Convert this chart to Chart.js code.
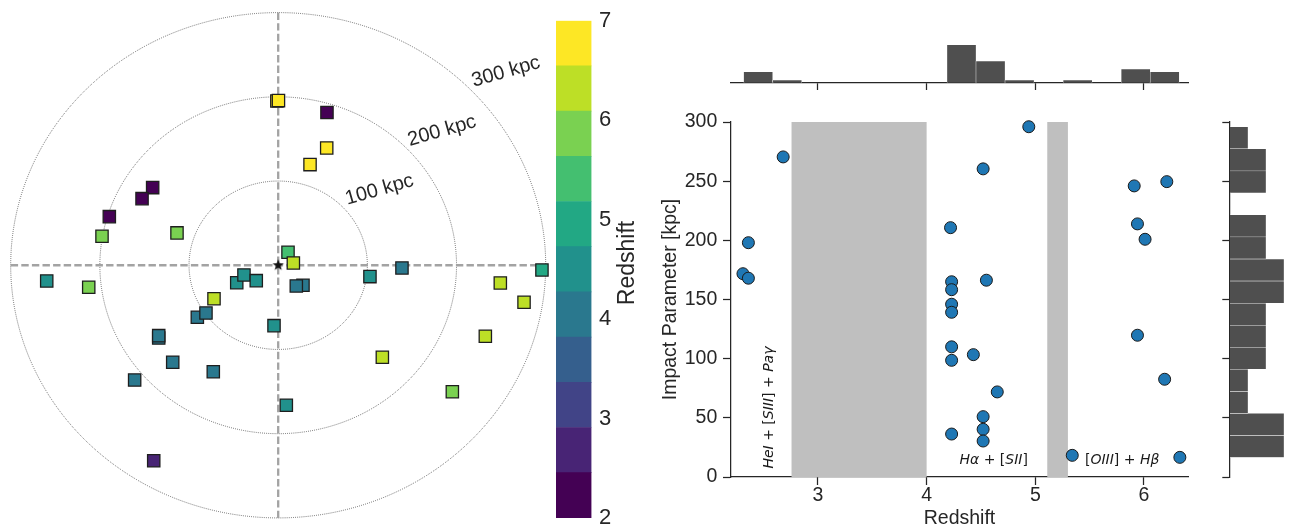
<!DOCTYPE html>
<html>
<head>
<meta charset="utf-8">
<script src="https://cdn.jsdelivr.net/npm/chart.js@4/dist/chart.umd.min.js"></script>
<style>
  html, body { margin: 0; padding: 0; background: #ffffff; width: 1291px; height: 529px; overflow: hidden; }
  .layer { position: absolute; left: 0; top: 0; width: 1291px; height: 540px; }
</style>
</head>
<body>
<div class="layer"><canvas id="sky"></canvas></div>
<div class="layer"><canvas id="cbar"></canvas></div>
<div class="layer"><canvas id="scatter"></canvas></div>
<div class="layer"><canvas id="histTop"></canvas></div>
<div class="layer"><canvas id="histRight"></canvas></div>
<script>
// ---- Sky-plane offsets of the galaxies from the sight line (kpc) and their redshifts ----
const skyDx = [-1.5, 0.3, 54.7, 54.4, 35.7, -140.8, -152.7, -189.4, -197.6, -113.5,
               11.0, 17.0, 138.8, 102.9, 27.8, 20.3, 295.8, 249.1, 275.7, 232.3,
               116.8, 195.3, 9.1, -4.7, -259.6, -212.5, -46.5, -38.4, -24.6, -72.0,
               -90.7, -81.0, -134.0, -134.0, -118.3, -72.8, -161.0, -139.6];
const skyDy = [195.0, 195.5, 181.3, 139.3, 119.5, 92.2, 79.1, 57.7, 34.4, 38.4,
               15.4, 2.7, -3.2, -13.5, -23.8, -24.6, -5.6, -21.0, -44.0, -84.3,
               -109.3, -150.2, -166.3, -71.7, -18.7, -26.1, -20.7, -11.5, -18.3, -39.7,
               -61.8, -56.7, -86.4, -83.6, -115.2, -126.4, -136.3, -232.1];
const skyZ  = [6.80, 6.80, 2.36, 6.80, 6.80, 2.36, 2.31, 2.36, 6.01, 5.94,
               5.34, 6.33, 4.22, 4.43, 4.22, 4.22, 4.94, 6.21, 6.30, 6.30,
               6.30, 5.91, 4.55, 4.65, 4.52, 5.94, 4.52, 4.52, 4.52, 6.19,
               4.22, 4.22, 4.22, 4.22, 4.22, 4.22, 4.22, 2.68];
const qsoPos = [0, 0];
const ringRadii = [100, 200, 300];
const ringNames = ['100 kpc', '200 kpc', '300 kpc'];

// ---- Discrete redshift colour scale ----
const zBounds = [2.0, 2.4545, 2.9091, 3.3636, 3.8182, 4.2727, 4.7273, 5.1818, 5.6364, 6.0909, 6.5455, 7.0];
const zColours = ['#440154', '#482475', '#414487', '#355f8d', '#2a788e', '#21918c',
                  '#22a884', '#44bf70', '#7ad151', '#bddf26', '#fde725'];
const cbarTicks = [2, 3, 4, 5, 6, 7];

// ---- Redshift vs impact parameter ----
const galZ  = [2.31, 2.36, 2.36, 2.68, 4.22, 4.23, 4.23, 4.23, 4.23, 4.23, 4.23, 4.23,
               4.43, 4.52, 4.55, 4.65, 4.52, 4.52, 4.52, 4.94, 5.34, 5.91, 6.21, 5.94,
               6.01, 5.94, 6.19, 6.33];
const galIP = [171.8, 198.0, 168.0, 270.5, 210.7, 165.0, 158.3, 146.0, 139.2, 110.0, 98.6, 36.3,
               103.4, 260.4, 166.3, 71.9, 51.0, 40.3, 30.4, 296.0, 18.3, 246.0, 249.6, 213.9,
               200.9, 119.8, 82.6, 16.6];
const blindZ = [[2.757, 4.0], [5.11, 5.30]];
const zTicks = [3, 4, 5, 6];
const ipTicks = [0, 50, 100, 150, 200, 250, 300];

// ---- Marginal histograms ----
const zHistCenters = [2.450, 2.717, 2.984, 3.251, 3.519, 3.786, 4.053, 4.321, 4.588, 4.855, 5.122, 5.390, 5.657, 5.924, 6.191];
const zHistCounts  = [4, 1, 0, 0, 0, 0, 0, 14, 8, 1, 0, 1, 0, 5, 4];
const ipHistCenters = [25.913, 44.540, 63.167, 81.793, 100.420, 119.047, 137.673, 156.300,
                       174.927, 193.553, 212.180, 230.807, 249.433, 268.060, 286.687];
const ipHistCounts  = [3, 3, 1, 1, 2, 2, 2, 3, 3, 2, 2, 0, 2, 2, 1];

// ---------------------------------------------------------------
const INK = '#262626';
const PAGE_H = 540;
Chart.defaults.font.family = "'Liberation Sans', Arial, sans-serif";
Chart.defaults.color = INK;

function zColour(z) {
  for (let i = 0; i < zColours.length; i++) {
    if (z >= zBounds[i] && z < zBounds[i + 1]) return zColours[i];
  }
  return zColours[zColours.length - 1];
}

// filled five-point star used for the quasar position
function starImage(r) {
  const c = document.createElement('canvas');
  const s = Math.ceil(2 * r + 2);
  c.width = s; c.height = s;
  const g = c.getContext('2d');
  g.translate(s / 2, s / 2);
  g.beginPath();
  for (let i = 0; i < 10; i++) {
    const rad = i % 2 === 0 ? r : r * 0.42;
    const a = -Math.PI / 2 + i * Math.PI / 5;
    g.lineTo(rad * Math.cos(a), rad * Math.sin(a));
  }
  g.closePath();
  g.fillStyle = '#111111';
  g.fill();
  return c;
}

function drawRuns(ctx, runs, x, y, size, align) {
  const fontOf = r => (r.it ? 'italic ' : '') + size + "px 'DejaVu Sans'";
  let total = 0;
  runs.forEach(r => { ctx.font = fontOf(r); total += ctx.measureText(r.t).width; });
  let cx = align === 'center' ? x - total / 2 : x;
  ctx.textAlign = 'left';
  ctx.textBaseline = 'middle';
  runs.forEach(r => { ctx.font = fontOf(r); ctx.fillText(r.t, cx, y); cx += ctx.measureText(r.t).width; });
}

const common = {
  responsive: true,
  maintainAspectRatio: false,
  animation: false,
  events: [],
};

// ---------------- Sky map ----------------
const skyFrame = {
  id: 'skyFrame',
  beforeDatasetsDraw(chart, args, opts) {
    const { ctx, chartArea: a, scales: { x, y } } = chart;
    const cx = x.getPixelForValue(0), cy = y.getPixelForValue(0);
    ctx.save();
    ctx.strokeStyle = 'rgba(30,30,30,0.95)';
    ctx.lineWidth = 0.8;
    ctx.setLineDash([0.8, 1.3]);
    ringRadii.forEach(r => {
      const rx = x.getPixelForValue(r) - cx;
      const ry = cy - y.getPixelForValue(r);
      ctx.beginPath();
      ctx.ellipse(cx, cy, rx, ry, 0, 0, 2 * Math.PI);
      ctx.stroke();
    });
    ctx.strokeStyle = '#a3a3a3';
    ctx.lineWidth = 2.3;
    ctx.setLineDash([7.4, 3.2]);
    ctx.beginPath();
    ctx.moveTo(a.left, cy); ctx.lineTo(a.right, cy);
    ctx.moveTo(cx, a.top); ctx.lineTo(cx, a.bottom);
    ctx.stroke();
    ctx.setLineDash([]);
    ctx.fillStyle = INK;
    ctx.font = "20px 'Liberation Sans', Arial, sans-serif";
    ctx.textAlign = 'center';
    ctx.textBaseline = 'middle';
    opts.labelAt.forEach((p, i) => {
      ctx.save();
      ctx.translate(x.getPixelForValue(p[0]), y.getPixelForValue(p[1]));
      ctx.rotate(-opts.angle * Math.PI / 180);
      ctx.fillText(ringNames[i], 0, 0);
      ctx.restore();
    });
    ctx.restore();
  }
};

new Chart(document.getElementById('sky'), {
  type: 'scatter',
  data: {
    datasets: [
      {
        data: skyDx.map((dx, i) => ({ x: dx, y: skyDy[i] })),
        pointStyle: 'rect',
        pointRadius: 8.7,
        pointHoverRadius: 8.7,
        backgroundColor: skyZ.map(zColour),
        borderColor: '#1e1e1e',
        borderWidth: 1.3,
        clip: false,
        order: 2
      },
      {
        data: [{ x: qsoPos[0], y: qsoPos[1] }],
        pointStyle: starImage(6),
        pointRadius: 6,
        clip: false,
        order: 1
      }
    ]
  },
  options: {
    ...common,
    layout: { padding: { left: 10.7, right: 1291 - 545.7, top: 12.6, bottom: PAGE_H - 517.9 } },
    plugins: {
      legend: { display: false }, tooltip: { enabled: false },
      skyFrame: { labelAt: [[113.6, 89.5], [183.7, 159.5], [255.5, 229.6]], angle: 16 }
    },
    scales: {
      x: { type: 'linear', min: -300, max: 300, display: false },
      y: { type: 'linear', min: -300, max: 300, display: false }
    }
  },
  plugins: [skyFrame]
});

// ---------------- Colour bar ----------------
const cbarTitle = {
  id: 'cbarTitle',
  afterDraw(chart) {
    const { ctx } = chart;
    ctx.save();
    ctx.translate(627.6, 263);
    ctx.rotate(-Math.PI / 2);
    ctx.fillStyle = INK;
    ctx.font = "23px 'Liberation Sans', Arial, sans-serif";
    ctx.textAlign = 'center';
    ctx.textBaseline = 'middle';
    ctx.fillText('Redshift', 0, 0);
    ctx.restore();
  }
};

new Chart(document.getElementById('cbar'), {
  type: 'bar',
  data: {
    labels: [''],
    datasets: zColours.map((c, i) => ({
      data: [[zBounds[i], zBounds[i + 1]]],
      backgroundColor: c,
      borderWidth: 0,
      grouped: false,
      barPercentage: 1,
      categoryPercentage: 1
    }))
  },
  options: {
    ...common,
    layout: { padding: { left: 556, right: 1291 - 591.5 - 40, top: 12.6, bottom: PAGE_H - 517.9 } },
    plugins: { legend: { display: false }, tooltip: { enabled: false } },
    scales: {
      x: { display: false },
      y: {
        type: 'linear', min: 2, max: 7, position: 'right',
        afterBuildTicks: s => { s.ticks = cbarTicks.map(v => ({ value: v })); },
        afterFit: s => { s.width = 40; },
        grid: { display: false, drawTicks: false },
        border: { display: false },
        ticks: { padding: 7.5, font: { size: 22 }, color: INK }
      }
    }
  },
  plugins: [cbarTitle]
});

// ---------------- Redshift vs impact parameter ----------------
const axisBox = { left: 731, right: 1188, top: 122, bottom: 477 };
const zRange = { min: 2.2, max: 6.405 };

const blindBands = {
  id: 'blindBands',
  beforeDatasetsDraw(chart) {
    const { ctx, chartArea: a, scales: { x } } = chart;
    ctx.save();
    ctx.fillStyle = '#bfbfbf';
    blindZ.forEach(b => {
      const x0 = x.getPixelForValue(b[0]), x1 = x.getPixelForValue(b[1]);
      ctx.fillRect(x0, a.top, x1 - x0, a.bottom - a.top);
    });
    ctx.restore();
  },
  afterDatasetsDraw(chart, args, opts) {
    const { ctx, scales: { x, y } } = chart;
    ctx.save();
    ctx.fillStyle = '#1a1a1a';
    opts.notes.forEach(n => {
      const px = x.getPixelForValue(n.z), py = y.getPixelForValue(n.ip);
      if (n.vertical) {
        ctx.save();
        ctx.translate(px, py);
        ctx.rotate(-Math.PI / 2);
        drawRuns(ctx, n.runs, 0, 0, 14, 'center');
        ctx.restore();
      } else {
        drawRuns(ctx, n.runs, px, py, 14, 'left');
      }
    });
    ctx.restore();
  }
};

const tickStyle = { display: true, offset: false, drawOnChartArea: false, drawTicks: true, tickLength: 8, tickWidth: 1.25, tickColor: INK };
const borderStyle = { display: true, color: INK, width: 1.25 };

new Chart(document.getElementById('scatter'), {
  type: 'scatter',
  data: {
    datasets: [{
      data: galZ.map((z, i) => ({ x: z, y: galIP[i] })),
      pointRadius: 6,
      pointHoverRadius: 6,
      backgroundColor: '#1f77b4',
      borderColor: '#1a1a1a',
      borderWidth: 1,
      clip: false
    }]
  },
  options: {
    ...common,
    layout: { padding: { left: 659, right: 1291 - axisBox.right, top: axisBox.top, bottom: PAGE_H - 530.7 } },
    plugins: {
      legend: { display: false }, tooltip: { enabled: false },
      blindBands: {
        notes: [
          { z: 2.552, ip: 58.7, vertical: true,
            runs: [{ t: 'HeI', it: true }, { t: ' + [', it: false }, { t: 'SIII', it: true }, { t: '] + ', it: false }, { t: 'Paγ', it: true }] },
          { z: 4.302, ip: 13.8,
            runs: [{ t: 'Hα', it: true }, { t: ' + [', it: false }, { t: 'SII', it: true }, { t: ']', it: false }] },
          { z: 5.457, ip: 13.8,
            runs: [{ t: '[', it: false }, { t: 'OIII', it: true }, { t: '] + ', it: false }, { t: 'Hβ', it: true }] }
        ]
      }
    },
    scales: {
      x: {
        type: 'linear', min: zRange.min, max: zRange.max, offset: false,
        afterBuildTicks: s => { s.ticks = zTicks.map(v => ({ value: v })); },
        afterFit: s => { s.height = 530.7 - axisBox.bottom; },
        grid: tickStyle, border: borderStyle,
        ticks: { padding: 1, maxRotation: 0, font: { size: 19.5, lineHeight: 1 }, color: INK },
        title: { display: true, text: 'Redshift', padding: 0, font: { size: 19.5 }, color: INK }
      },
      y: {
        type: 'linear', min: 0, max: 300,
        afterBuildTicks: s => { s.ticks = ipTicks.map(v => ({ value: v })); },
        afterFit: s => { s.width = axisBox.left - 659; },
        grid: tickStyle, border: borderStyle,
        ticks: { padding: 5.7, font: { size: 19.5 }, color: INK },
        title: { display: true, text: 'Impact Parameter [kpc]', padding: 0, font: { size: 19.5 }, color: INK }
      }
    }
  },
  plugins: [blindBands]
});

// ---------------- Redshift histogram (top) ----------------
const histFill = '#4f4f4f';
const histTop = 20, histBase = 82.7, pxPerGal = 2.71;
new Chart(document.getElementById('histTop'), {
  type: 'bar',
  data: {
    datasets: [{
      data: zHistCenters.map((c, i) => ({ x: c, y: zHistCounts[i] })),
      backgroundColor: histFill,
      borderColor: '#ffffff',
      borderWidth: { left: 0.5, right: 0.5, top: 0.5, bottom: 0 },
      barPercentage: 1,
      categoryPercentage: 1
    }]
  },
  options: {
    ...common,
    layout: { padding: { left: axisBox.left, right: 1291 - axisBox.right, top: histTop, bottom: PAGE_H - histBase - 10 } },
    plugins: { legend: { display: false }, tooltip: { enabled: false } },
    scales: {
      x: {
        type: 'linear', min: zRange.min, max: zRange.max, offset: false,
        afterBuildTicks: s => { s.ticks = zTicks.map(v => ({ value: v })); },
        afterFit: s => { s.height = 10; },
        grid: { ...tickStyle, tickLength: 7.3 }, border: borderStyle,
        ticks: { display: false }
      },
      y: { type: 'linear', min: 0, max: (histBase - histTop) / pxPerGal, display: false }
    }
  }
});

// ---------------- Impact-parameter histogram (right) ----------------
const histLeft = 1230, pxPerGalH = 18.0;
new Chart(document.getElementById('histRight'), {
  type: 'bar',
  data: {
    datasets: [{
      data: ipHistCenters.map((c, i) => ({ y: c, x: ipHistCounts[i] })),
      backgroundColor: histFill,
      borderColor: '#ffffff',
      borderWidth: { top: 0.5, bottom: 0.5, right: 0.5, left: 0 },
      barPercentage: 1,
      categoryPercentage: 1
    }]
  },
  options: {
    ...common,
    indexAxis: 'y',
    layout: { padding: { left: histLeft - 10, right: 0, top: axisBox.top, bottom: PAGE_H - axisBox.bottom } },
    plugins: { legend: { display: false }, tooltip: { enabled: false } },
    scales: {
      y: {
        type: 'linear', min: 0, max: 300, position: 'left', offset: false,
        afterBuildTicks: s => { s.ticks = ipTicks.map(v => ({ value: v })); },
        afterFit: s => { s.width = 10; },
        grid: { ...tickStyle, tickLength: 7.7 }, border: borderStyle,
        ticks: { display: false }
      },
      x: { type: 'linear', min: 0, max: (1291 - histLeft) / pxPerGalH, display: false }
    }
  }
});
</script>
</body>
</html>
